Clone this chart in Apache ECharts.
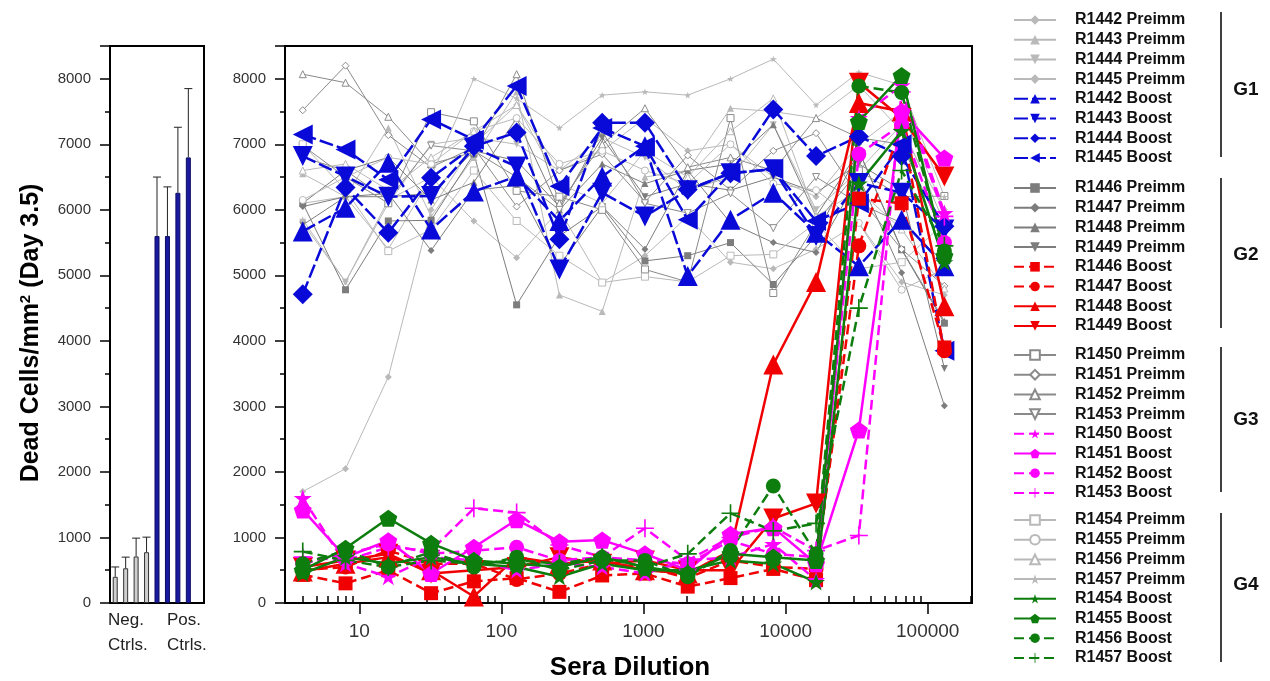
<!DOCTYPE html>
<html>
<head>
<meta charset="utf-8">
<script src="https://cdn.jsdelivr.net/npm/echarts@6/dist/echarts.min.js"></script>
<style>
  html, body { margin: 0; background: #fff; }
  #chart { width: 1270px; height: 681px; }
</style>
</head>
<body>
<div id="chart"></div>
<script>
// dilution steps (x axis, log)
const dilutions = [4, 8, 16, 32, 64, 128, 256, 512, 1024, 2048, 4096, 8192, 16384, 32768, 65536, 131072];

// G1
const r1442Pre = [1700, 2050, 3450, 6000, 7000, 7600, 6600, 6900, 7400, 6900, 7000, 6500, 6200, 7000, 7500, 6000];
const r1443Pre = [6550, 6200, 7250, 5900, 6800, 7800, 4700, 4450, 6500, 6600, 7550, 7500, 7400, 7900, 7200, 6000];
const r1444Pre = [5800, 4900, 6100, 7000, 7100, 7000, 6600, 7100, 6800, 6300, 6500, 7300, 6000, 6600, 7300, 5800];
const r1445Pre = [6100, 6200, 5400, 6500, 5830, 5270, 6000, 4890, 5300, 5900, 5200, 5100, 5400, 5800, 4900, 4700];
const r1442Boost = [5670, 6030, 6720, 5700, 6280, 6510, 5830, 6510, 6970, 4990, 5850, 6260, 5650, 5140, 5850, 5140];
const r1443Boost = [6820, 6510, 6200, 6210, 6950, 6660, 5090, 6260, 5900, 6300, 6560, 6620, 5600, 6410, 6260, 5700];
const r1444Boost = [4710, 6340, 5650, 6490, 6970, 7180, 5550, 7330, 7330, 6310, 6560, 7530, 6820, 7120, 6820, 5750];
const r1445Boost = [7150, 6920, 6460, 7380, 7070, 7890, 6360, 7250, 6970, 5850, 6560, 6620, 5830, 6100, 7000, 3850];
// G2
const r1446Pre = [6100, 4780, 5830, 5840, 6850, 4550, 5600, 6050, 5220, 5300, 5500, 4860, 5600, 6900, 5390, 4270];
const r1447Pre = [6050, 6200, 6250, 5380, 6300, 6370, 5150, 6050, 5400, 6600, 5800, 5500, 5350, 6500, 5040, 3010];
const r1448Pre = [6100, 6600, 6800, 6150, 6420, 7400, 6000, 6700, 6400, 6600, 6700, 7300, 5900, 6900, 5400, 4300];
const r1449Pre = [5770, 6200, 6200, 6250, 6900, 6750, 6050, 7100, 6200, 6400, 6300, 6500, 6260, 6700, 6300, 3580];
const r1446Boost = [430, 300, 500, 150, 330, 380, 170, 420, 450, 250, 380, 520, 350, 6170, 6100, 3900];
const r1447Boost = [500, 550, 800, 600, 600, 360, 450, 600, 550, 380, 650, 550, 520, 5450, 7280, 3850];
const r1448Boost = [480, 600, 700, 500, 100, 700, 600, 650, 500, 450, 800, 3640, 4900, 7630, 7500, 4530];
const r1449Boost = [550, 650, 750, 450, 500, 550, 700, 600, 650, 500, 500, 1290, 1520, 7940, 7400, 6510];
// G3
const r1450Pre = [6980, 6500, 6100, 7490, 7350, 6290, 6200, 6000, 5090, 4900, 7400, 4730, 5800, 6600, 6200, 6210];
const r1451Pre = [7520, 8200, 7140, 6650, 6950, 6050, 6600, 6850, 6120, 6830, 6300, 6900, 7170, 6200, 5400, 4840];
const r1452Pre = [8070, 7940, 7420, 6700, 6880, 8070, 6100, 7000, 7550, 6650, 6800, 6600, 7400, 7100, 7000, 5600];
const r1453Pre = [6800, 6600, 6150, 6980, 6900, 6500, 6000, 7200, 6100, 5950, 6250, 5720, 6500, 6100, 5800, 5200];
const r1450Boost = [1600, 600, 400, 700, 650, 500, 600, 550, 450, 650, 700, 900, 350, 7400, 7900, 5950];
const r1451Boost = [1420, 700, 950, 450, 850, 1270, 935, 960, 750, 500, 1050, 1150, 600, 2640, 7500, 6790];
const r1452Boost = [600, 750, 900, 750, 800, 850, 650, 700, 650, 600, 950, 750, 700, 6850, 7300, 5500];
const r1453Boost = [700, 650, 850, 800, 1445, 1380, 885, 700, 1140, 650, 1000, 1160, 800, 1030, 7800, 5900];
// G4
const r1454Pre = [7000, 6300, 5370, 5700, 6600, 5830, 5300, 4890, 4980, 4900, 5300, 5320, 5800, 5100, 5200, 5800];
const r1455Pre = [6150, 6500, 6800, 6700, 7200, 7400, 6700, 6900, 6600, 6400, 7000, 6400, 6300, 5800, 4780, 5100];
const r1456Pre = [6600, 6700, 6300, 6800, 7200, 7600, 6400, 6100, 6900, 6500, 7200, 7700, 5900, 6300, 5700, 4800];
const r1457Pre = [5850, 4900, 6150, 6500, 8000, 7700, 7250, 7750, 7800, 7750, 8000, 8300, 7600, 8100, 7900, 6200];
const r1454Boost = [450, 700, 600, 700, 600, 550, 400, 600, 500, 500, 650, 600, 320, 6400, 7200, 5200];
const r1455Boost = [500, 835, 1293, 910, 650, 600, 550, 700, 550, 450, 750, 700, 650, 7350, 8050, 5300];
const r1456Boost = [600, 800, 550, 780, 550, 700, 500, 650, 650, 400, 800, 1786, 750, 7890, 7790, 5370];
const r1457Boost = [784, 650, 550, 650, 600, 650, 600, 700, 550, 750, 1370, 1100, 1215, 4500, 6600, 5450];

// controls (left panel)
const ctrlNames = ['Neg 1', 'Neg 2', 'Neg 3', 'Neg 4', 'Pos 1', 'Pos 2', 'Pos 3', 'Pos 4'];
const ctrlMeans = [400, 530, 710, 775, 5600, 5600, 6260, 6800];
const ctrlUpper = [550, 700, 990, 1005, 6500, 6350, 7260, 7850];

const xMajor = [10, 100, 1000, 10000, 100000];
const xMinor = [4, 5, 6, 7, 8, 9, 20, 30, 40, 50, 60, 70, 80, 90, 200, 300, 400, 500, 600, 700, 800, 900,
  2000, 3000, 4000, 5000, 6000, 7000, 8000, 9000, 20000, 30000, 40000, 50000, 60000, 70000, 80000, 90000, 200000];

const FONT = 'Liberation Sans, Arial, sans-serif';
const STAR = 'path://M10,0 L12.4,7.2 L20,7.2 L13.8,11.8 L16.2,19 L10,14.5 L3.8,19 L6.2,11.8 L0,7.2 L7.6,7.2 Z';
const PENT = 'path://M10,0 L20,7.3 L16.2,19 L3.8,19 L0,7.3 Z';
const PLUS = 'path://M9.1,0 H10.9 V9.1 H20 V10.9 H10.9 V20 H9.1 V10.9 H0 V9.1 H9.1 Z';

const LIGHT = '#b9b9b9', DARK = '#7d7d7d', MID = '#8a8a8a';
const BLUE = '#0a0ad8', RED = '#f00000', MAG = '#ff00ff', GREEN = '#0d7d0d';

function pre(name, values, color, symbol, rot, hollow) {
  return { name, values, color, symbol, rot, hollow, size: 7, width: 1, dash: 'solid', z: 2 };
}
function boost(name, values, color, symbol, rot, dash, size) {
  return { name, values, color, symbol, rot, size: size || 17, width: 2.5, dash, z: 3 };
}

const lines = [
  pre('R1442 Preimm', r1442Pre, LIGHT, 'diamond', 0),
  pre('R1443 Preimm', r1443Pre, LIGHT, 'triangle', 0),
  pre('R1444 Preimm', r1444Pre, LIGHT, 'triangle', 180),
  pre('R1445 Preimm', r1445Pre, LIGHT, 'diamond', 0),
  pre('R1446 Preimm', r1446Pre, DARK, 'rect', 0),
  pre('R1447 Preimm', r1447Pre, DARK, 'diamond', 0),
  pre('R1448 Preimm', r1448Pre, DARK, 'triangle', 0),
  pre('R1449 Preimm', r1449Pre, DARK, 'triangle', 180),
  pre('R1450 Preimm', r1450Pre, MID, 'rect', 0, true),
  pre('R1451 Preimm', r1451Pre, MID, 'diamond', 0, true),
  pre('R1452 Preimm', r1452Pre, MID, 'triangle', 0, true),
  pre('R1453 Preimm', r1453Pre, MID, 'triangle', 180, true),
  pre('R1454 Preimm', r1454Pre, LIGHT, 'rect', 0, true),
  pre('R1455 Preimm', r1455Pre, LIGHT, 'circle', 0, true),
  pre('R1456 Preimm', r1456Pre, LIGHT, 'triangle', 0, true),
  pre('R1457 Preimm', r1457Pre, LIGHT, STAR, 0),
  boost('R1442 Boost', r1442Boost, BLUE, 'triangle', 0, [14, 4], 20),
  boost('R1443 Boost', r1443Boost, BLUE, 'triangle', 180, [14, 4], 20),
  boost('R1444 Boost', r1444Boost, BLUE, 'diamond', 0, [14, 4], 20),
  boost('R1445 Boost', r1445Boost, BLUE, 'triangle', 90, [14, 4], 20),
  boost('R1446 Boost', r1446Boost, RED, 'rect', 0, [10, 5], 14),
  boost('R1447 Boost', r1447Boost, RED, 'circle', 0, [10, 5], 15),
  boost('R1448 Boost', r1448Boost, RED, 'triangle', 0, 'solid', 20),
  boost('R1449 Boost', r1449Boost, RED, 'triangle', 180, 'solid', 20),
  boost('R1450 Boost', r1450Boost, MAG, STAR, 0, [10, 5], 18),
  boost('R1451 Boost', r1451Boost, MAG, PENT, 0, 'solid', 18),
  boost('R1452 Boost', r1452Boost, MAG, 'circle', 0, [10, 5], 15),
  boost('R1453 Boost', r1453Boost, MAG, PLUS, 0, [10, 5], 18),
  boost('R1454 Boost', r1454Boost, GREEN, STAR, 0, 'solid', 18),
  boost('R1455 Boost', r1455Boost, GREEN, PENT, 0, 'solid', 18),
  boost('R1456 Boost', r1456Boost, GREEN, 'circle', 0, [10, 5], 15),
  boost('R1457 Boost', r1457Boost, GREEN, PLUS, 0, [10, 5], 18)
];

const lineSeries = lines.map(s => ({
  name: s.name,
  type: 'line',
  xAxisIndex: 1,
  yAxisIndex: 1,
  data: dilutions.map((d, i) => [d, s.values[i]]),
  symbol: s.symbol,
  symbolSize: s.size,
  symbolRotate: s.rot,
  symbolKeepAspect: true,
  showAllSymbol: true,
  z: s.z,
  lineStyle: { color: s.color, width: s.width, type: s.dash },
  itemStyle: s.hollow
    ? { color: '#fff', borderColor: s.color, borderWidth: 1 }
    : { color: s.color, borderWidth: 0 },
  emphasis: { disabled: true }
}));

const groups = [
  ['R1442 Preimm', 'R1443 Preimm', 'R1444 Preimm', 'R1445 Preimm', 'R1442 Boost', 'R1443 Boost', 'R1444 Boost', 'R1445 Boost'],
  ['R1446 Preimm', 'R1447 Preimm', 'R1448 Preimm', 'R1449 Preimm', 'R1446 Boost', 'R1447 Boost', 'R1448 Boost', 'R1449 Boost'],
  ['R1450 Preimm', 'R1451 Preimm', 'R1452 Preimm', 'R1453 Preimm', 'R1450 Boost', 'R1451 Boost', 'R1452 Boost', 'R1453 Boost'],
  ['R1454 Preimm', 'R1455 Preimm', 'R1456 Preimm', 'R1457 Preimm', 'R1454 Boost', 'R1455 Boost', 'R1456 Boost', 'R1457 Boost']
];
const legendTops = [7, 175, 342, 507];
const groupLabels = ['G1', 'G2', 'G3', 'G4'];
const bracketSpans = [[12, 157], [178, 328], [347, 492], [513, 662]];

const yAxisBase = {
  type: 'value', min: 0, max: 8500, interval: 1000,
  axisLine: { show: true, lineStyle: { color: '#000', width: 2 } },
  axisTick: { show: true, length: 10, lineStyle: { color: '#000', width: 1.5 } },
  minorTick: { show: true, splitNumber: 2, length: 5, lineStyle: { color: '#000', width: 1.5 } },
  splitLine: { show: false },
  axisLabel: {
    fontFamily: FONT, fontSize: 15, color: '#333', margin: 19, showMaxLabel: false,
    formatter: v => String(v)
  }
};

const chart = echarts.init(document.getElementById('chart'));
chart.setOption({
  animation: false,
  backgroundColor: '#fff',
  grid: [
    { left: 110, right: 1066, top: 46, bottom: 78, show: true, borderColor: '#000', borderWidth: 2 },
    { left: 285, right: 298, top: 46, bottom: 78, show: true, borderColor: '#000', borderWidth: 2 }
  ],
  xAxis: [
    {
      type: 'category', gridIndex: 0, data: ctrlNames, max: 8,
      axisLine: { lineStyle: { color: '#000', width: 2 } },
      axisTick: { show: false }, axisLabel: { show: false }
    },
    {
      type: 'log', logBase: 10, gridIndex: 1, min: 3, max: 205000,
      axisLine: { onZero: false, lineStyle: { color: '#000', width: 2 } },
      axisTick: { show: true, length: 11, customValues: xMajor, lineStyle: { color: '#000', width: 1.5 } },
      axisLabel: {
        fontFamily: FONT, fontSize: 19, color: '#333', margin: 19, customValues: xMajor,
        formatter: v => String(Math.round(v))
      },
      splitLine: { show: false }
    },
    {
      type: 'log', logBase: 10, gridIndex: 1, min: 3, max: 205000,
      axisLine: { show: false },
      axisTick: { show: true, length: 7, customValues: xMinor, lineStyle: { color: '#000', width: 1.5 } },
      axisLabel: { show: false },
      splitLine: { show: false }
    }
  ],
  yAxis: [
    Object.assign({ gridIndex: 0 }, yAxisBase),
    Object.assign({ gridIndex: 1 }, yAxisBase)
  ],
  legend: groups.map((g, k) => ({
    data: g,
    orient: 'vertical',
    left: 1008,
    top: legendTops[k],
    itemWidth: 42,
    itemHeight: 12,
    itemGap: 3.7,
    selectedMode: false,
    textStyle: { fontFamily: FONT, fontSize: 16, fontWeight: 'bold', color: '#111', lineHeight: 16, padding: [0, 0, 0, 14] }
  })),
  graphic: [
    ...bracketSpans.map(b => ({
      type: 'line', shape: { x1: 1221, y1: b[0], x2: 1221, y2: b[1] },
      style: { stroke: '#000', lineWidth: 1.5 }
    })),
    ...groupLabels.map((t, k) => ({
      type: 'text', x: 1246, y: [90, 255, 420, 585][k],
      style: { text: t, font: 'bold 19px ' + FONT, fill: '#111', textAlign: 'center', textVerticalAlign: 'middle' }
    })),
    {
      type: 'text', x: 31, y: 333, rotation: Math.PI / 2,
      style: {
        text: '{a|Dead Cells/mm}{s|2}{a| (Day 3.5)}',
        textAlign: 'center', textVerticalAlign: 'middle',
        rich: {
          a: { fontFamily: FONT, fontSize: 25, fontWeight: 'bold', fill: '#000', color: '#000' },
          s: { fontFamily: FONT, fontSize: 15, fontWeight: 'bold', fill: '#000', color: '#000', verticalAlign: 'top' }
        }
      }
    },
    {
      type: 'text', x: 630, y: 668,
      style: { text: 'Sera Dilution', font: 'bold 26px ' + FONT, fill: '#000', textAlign: 'center', textVerticalAlign: 'middle' }
    },
    {
      type: 'text', x: 108, y: 608,
      style: { text: 'Neg.\nCtrls.', font: '17px ' + FONT, fill: '#222', lineHeight: 25, textAlign: 'left', textVerticalAlign: 'top' }
    },
    {
      type: 'text', x: 167, y: 608,
      style: { text: 'Pos.\nCtrls.', font: '17px ' + FONT, fill: '#222', lineHeight: 25, textAlign: 'left', textVerticalAlign: 'top' }
    }
  ],
  series: [
    {
      type: 'bar', xAxisIndex: 0, yAxisIndex: 0, barWidth: 5,
      data: ctrlMeans.map((v, i) => ({
        value: v,
        itemStyle: i < 4
          ? { color: '#cfcfcf', borderColor: '#333', borderWidth: 1 }
          : { color: '#1a1aa0', borderColor: '#0d0d60', borderWidth: 1 }
      })),
      emphasis: { disabled: true }
    },
    {
      type: 'custom', xAxisIndex: 0, yAxisIndex: 0, z: 1,
      data: ctrlMeans.map((v, i) => [i, v, ctrlUpper[i]]),
      renderItem: (params, api) => {
        const base = api.coord([api.value(0), api.value(1)]);
        const top = api.coord([api.value(0), api.value(2)]);
        const st = { stroke: '#222', lineWidth: 1 };
        return {
          type: 'group', children: [
            { type: 'line', shape: { x1: base[0], y1: base[1], x2: top[0], y2: top[1] }, style: st },
            { type: 'line', shape: { x1: top[0] - 4, y1: top[1], x2: top[0] + 4, y2: top[1] }, style: st }
          ]
        };
      }
    },
    ...lineSeries
  ]
});
</script>
</body>
</html>
